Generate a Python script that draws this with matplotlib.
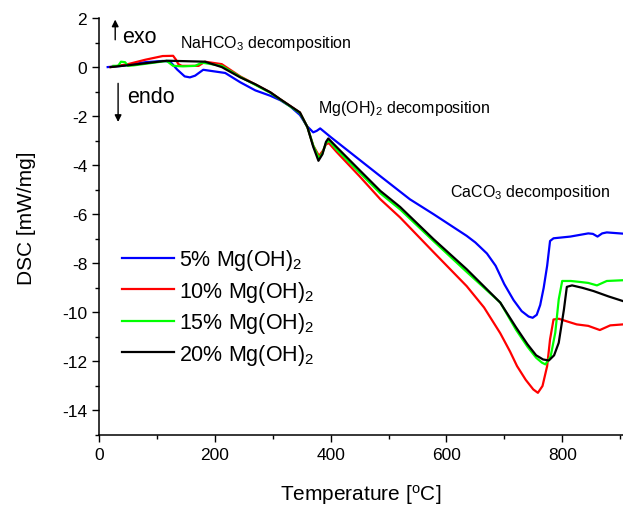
import matplotlib
matplotlib.use('Agg')
import matplotlib.pyplot as plt
from matplotlib.ticker import MultipleLocator

plt.rcParams['font.family'] = ['Liberation Sans', 'DejaVu Sans']
plt.rcParams['mathtext.default'] = 'regular'
plt.rcParams['axes.unicode_minus'] = False

# 5% Mg(OH)2
t_5 = [15, 40, 80, 110, 123, 135, 148, 157, 166, 180, 218, 244, 270, 296, 313, 330, 347, 359,
       370, 376, 382, 400, 450, 486, 537, 578, 635, 650, 670, 685, 700, 716, 730, 742, 749,
       756, 762, 768, 774, 779, 785, 814, 845, 853, 861, 869, 877, 905]
dsc_5 = [0.0, 0.05, 0.2, 0.25, 0.22, -0.1, -0.38, -0.42, -0.35, -0.11, -0.24, -0.62, -0.95,
         -1.17, -1.35, -1.6, -1.95, -2.4, -2.66, -2.6, -2.5, -2.85, -3.78, -4.45, -5.39, -6.0,
         -6.88, -7.15, -7.6, -8.1, -8.85, -9.5, -9.95, -10.17, -10.22, -10.1, -9.7, -9.0,
         -8.1, -7.09, -6.98, -6.91, -6.78, -6.8, -6.91, -6.78, -6.74, -6.79]

# 10% Mg(OH)2
t_10 = [20, 50, 80, 110, 128, 133, 137, 143, 172, 183, 212, 244, 296, 313, 330, 347, 360, 370,
        380, 387, 392, 397, 410, 450, 486, 520, 578, 635, 665, 693, 710, 722, 737, 750, 758,
        766, 774, 779, 785, 794, 810, 825, 845, 865, 883, 905]
dsc_10 = [0.0, 0.12, 0.3, 0.45, 0.46, 0.3, 0.12, 0.05, 0.05, 0.22, 0.12, -0.38, -1.03, -1.31,
          -1.58, -1.85, -2.45, -3.2, -3.62, -3.4, -3.15, -3.1, -3.45, -4.45, -5.39, -6.13,
          -7.55, -8.93, -9.8, -10.85, -11.6, -12.19, -12.75, -13.14, -13.28, -13.0, -12.19,
          -11.1, -10.29, -10.26, -10.38, -10.49, -10.55, -10.72, -10.53, -10.49]

# 15% Mg(OH)2
t_15 = [25, 33, 38, 45, 50, 60, 117, 128, 145, 166, 178, 212, 244, 296, 313, 330, 347, 360,
        370, 380, 386, 392, 397, 410, 450, 486, 520, 578, 635, 693, 720, 740, 755, 765, 771,
        780, 788, 794, 800, 815, 831, 845, 860, 877, 905]
dsc_15 = [0.05, 0.05, 0.22, 0.2, 0.05, 0.07, 0.25, 0.05, 0.03, 0.05, 0.18, 0.05, -0.4, -1.05,
          -1.32, -1.6, -1.87, -2.45, -3.2, -3.72, -3.5, -3.1, -3.0, -3.35, -4.3, -5.15, -5.8,
          -7.1, -8.35, -9.6, -10.7, -11.4, -11.85, -12.05, -12.12, -11.8, -10.83, -9.47, -8.72,
          -8.72, -8.76, -8.8, -8.9, -8.72, -8.69]

# 20% Mg(OH)2
t_20 = [20, 60, 117, 183, 212, 244, 270, 296, 313, 330, 347, 360, 370, 379, 386, 392, 396, 410,
        450, 486, 520, 578, 635, 693, 720, 740, 755, 767, 777, 786, 794, 803, 808, 817, 835,
        854, 880, 905]
dsc_20 = [0.0, 0.1, 0.26, 0.22, 0.0, -0.42, -0.7, -1.03, -1.31, -1.58, -1.85, -2.45, -3.25,
          -3.82, -3.55, -3.05, -2.91, -3.25, -4.2, -5.05, -5.7, -7.02, -8.24, -9.6, -10.6,
          -11.3, -11.75, -11.92, -11.96, -11.75, -11.24, -9.88, -8.96, -8.9, -9.0, -9.13,
          -9.35, -9.54]

series = [
    (t_5, dsc_5, '#0000ff', '5% Mg(OH)$_2$'),
    (t_10, dsc_10, '#ff0000', '10% Mg(OH)$_2$'),
    (t_15, dsc_15, '#00ff00', '15% Mg(OH)$_2$'),
    (t_20, dsc_20, '#000000', '20% Mg(OH)$_2$'),
]


def main():
    fig = plt.figure(figsize=(6.23, 5.06), dpi=100)
    ax = fig.add_axes([0.1589, 0.1383, 0.8411, 0.8241])

    for t, d, c, lab in series:
        ax.plot(t, d, color=c, lw=1.6, label=lab)

    ax.set_xlim(0, 905)
    ax.set_ylim(-15, 2)
    ax.xaxis.set_major_locator(MultipleLocator(200))
    ax.xaxis.set_minor_locator(MultipleLocator(100))
    ax.yaxis.set_major_locator(MultipleLocator(2))
    ax.yaxis.set_minor_locator(MultipleLocator(1))
    ax.tick_params(which='major', length=5, width=1, labelsize=12.5)
    ax.tick_params(which='minor', length=3, width=1)
    for s in ['top', 'right']:
        ax.spines[s].set_visible(False)
    for s in ['left', 'bottom']:
        ax.spines[s].set_linewidth(1.1)

    ax.set_xlabel('Temperature [$^{o}$C]', fontsize=15)
    ax.set_ylabel('DSC [mW/mg]', fontsize=15)
    ax.xaxis.set_label_coords(0.5, -0.112)
    ax.yaxis.set_label_coords(-0.12, 0.523)

    # exo / endo markers
    ax.annotate('', xy=(28, 2.05), xytext=(28, 1.0), annotation_clip=False,
                arrowprops=dict(arrowstyle='-|>', color='black', lw=1, mutation_scale=10))
    ax.annotate('', xy=(33, -2.35), xytext=(33, -0.55),
                arrowprops=dict(arrowstyle='-|>', color='black', lw=1, mutation_scale=10))
    ax.text(40, 1.02, 'exo', fontsize=15.5, va='baseline')
    ax.text(48, -1.43, 'endo', fontsize=15.5, va='baseline')

    ax.text(140, 0.82, 'NaHCO$_3$ decomposition', fontsize=11.5, va='baseline')
    ax.text(379, -1.84, 'Mg(OH)$_2$ decomposition', fontsize=11.5, va='baseline')
    ax.text(607, -5.25, 'CaCO$_3$ decomposition', fontsize=11.5, va='baseline')

    ax.legend(loc='upper left', bbox_to_anchor=(0.044, 0.45), frameon=False,
              fontsize=15.5, handlelength=2.4, handletextpad=0.25, labelspacing=0.3,
              borderpad=0, borderaxespad=0)

    fig.savefig('out.png', dpi=100)


if __name__ == "__main__":
    main()
